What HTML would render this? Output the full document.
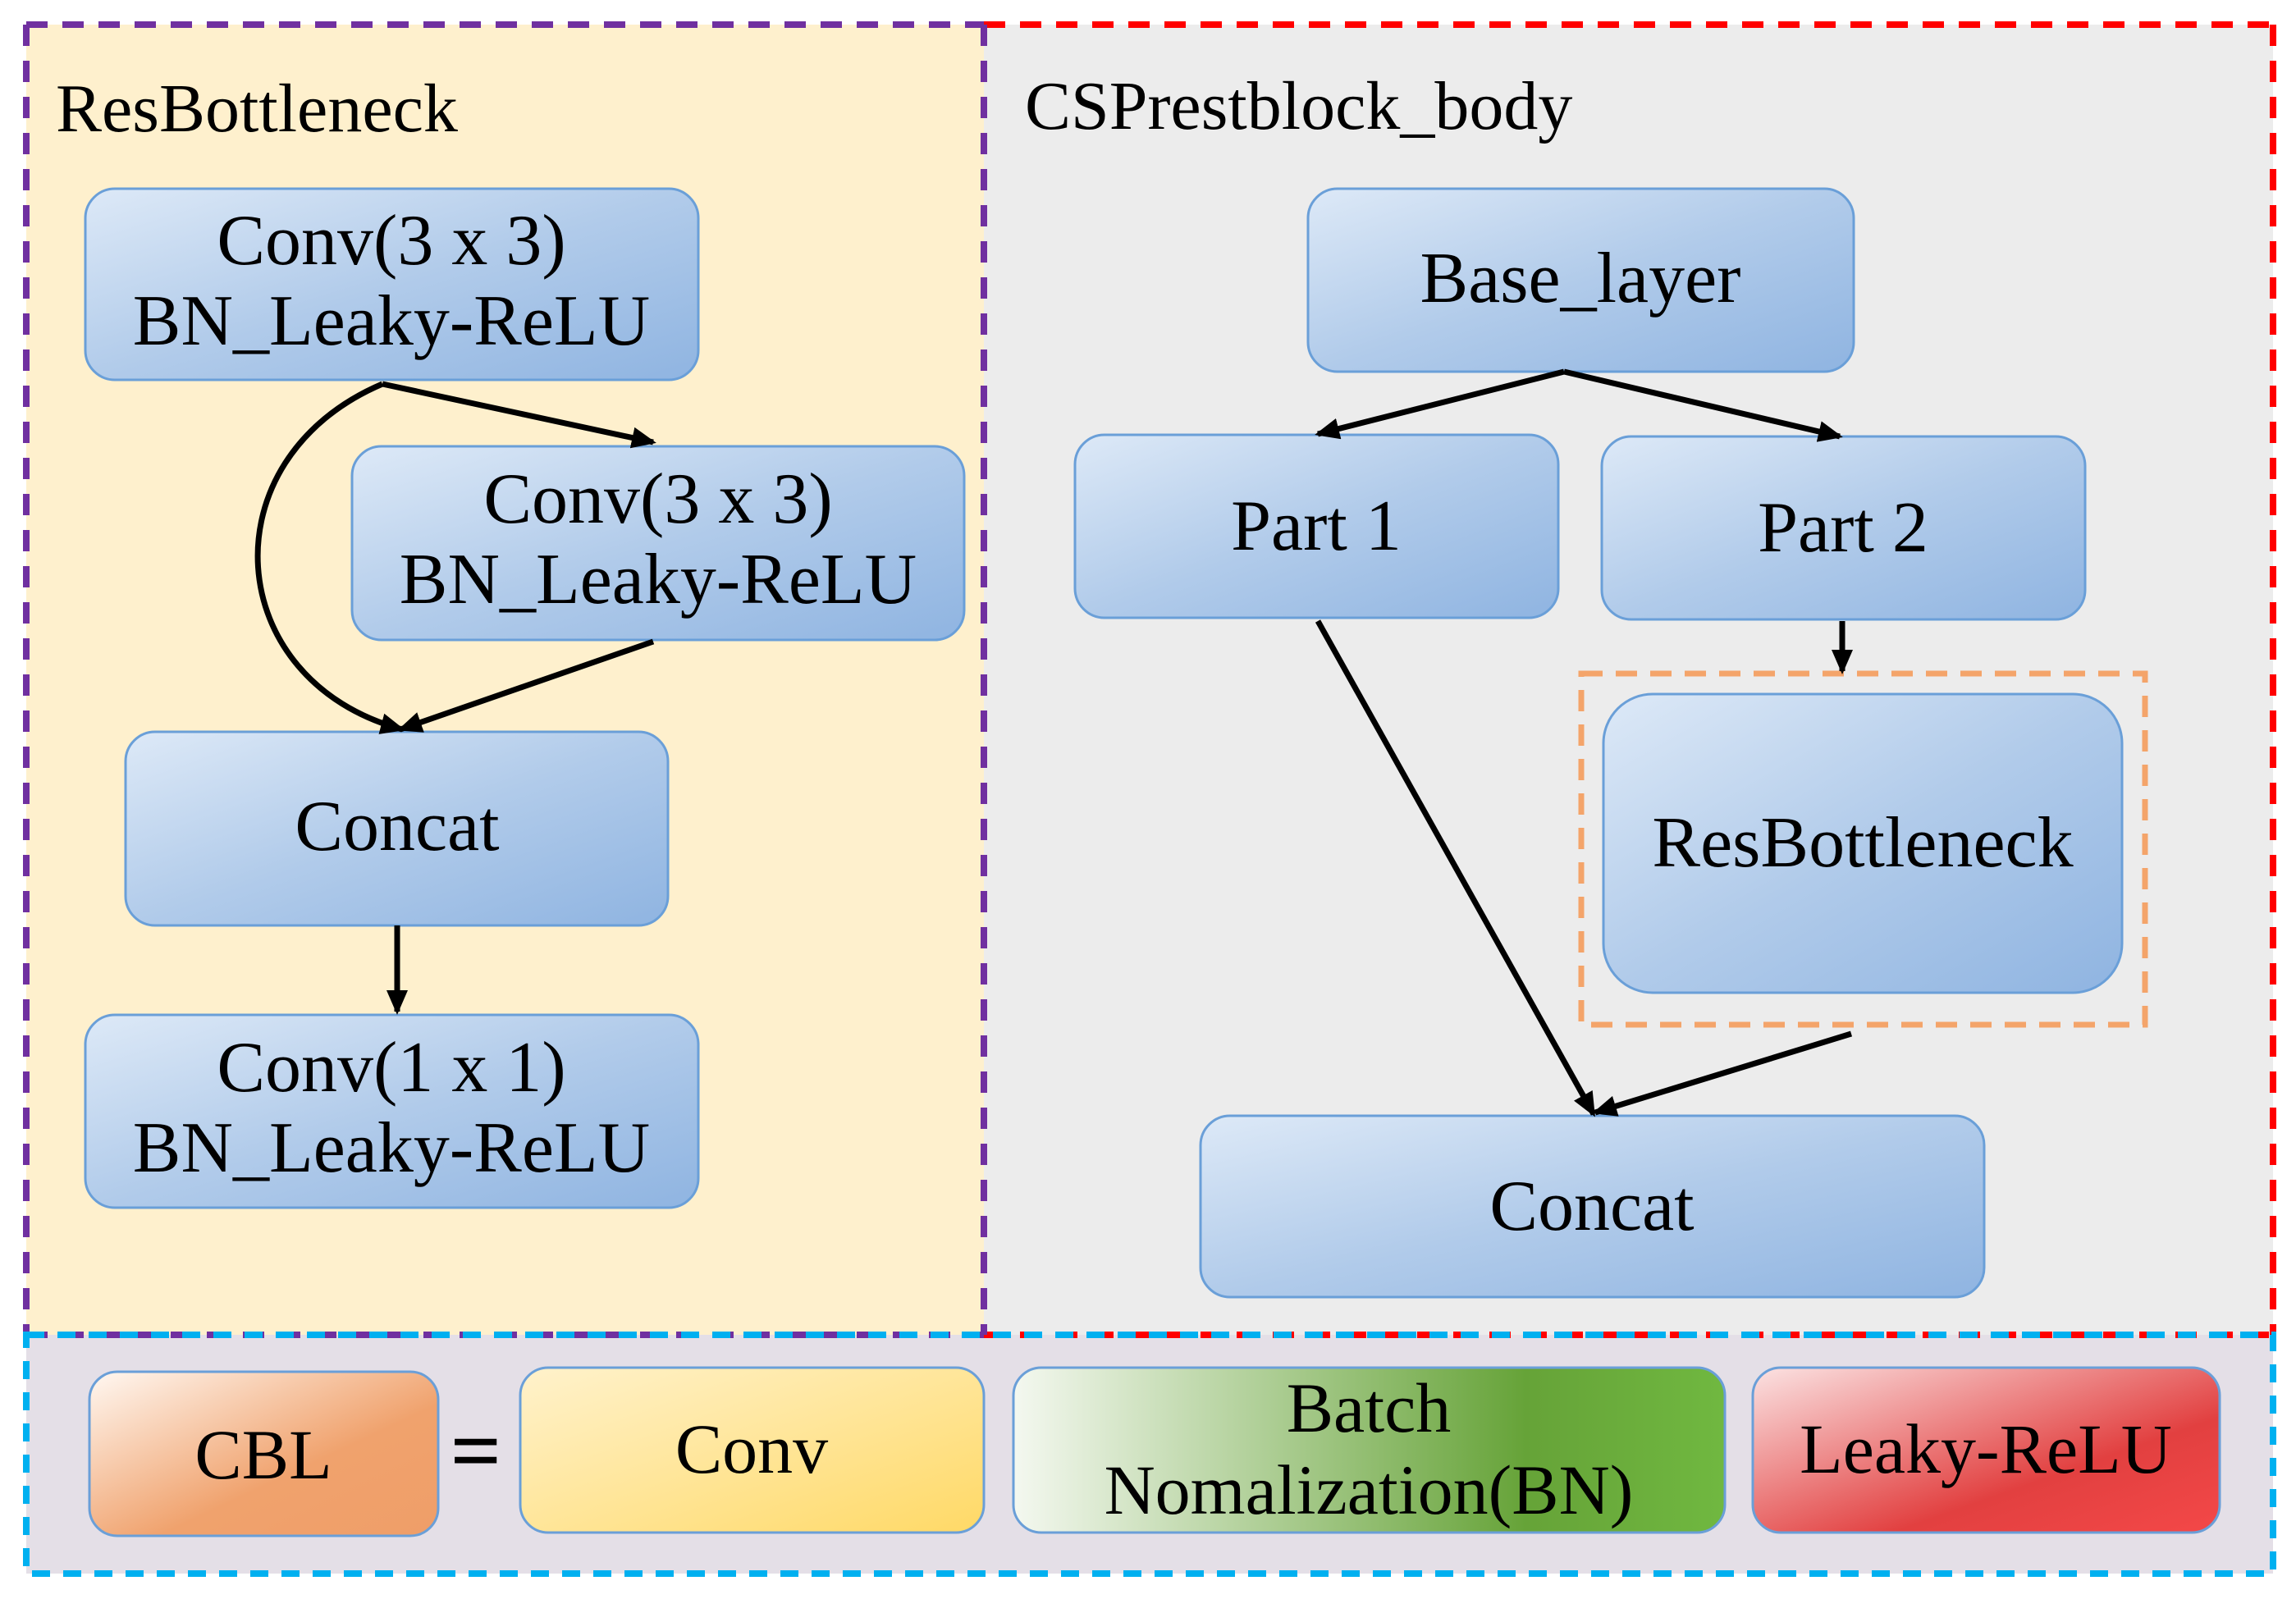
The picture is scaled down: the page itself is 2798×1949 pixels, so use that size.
<!DOCTYPE html>
<html><head><meta charset="utf-8"><style>
html,body{margin:0;padding:0;background:#fff;}
svg{display:block;}
text{font-family:"Liberation Serif",serif;fill:#000;}
</style></head><body>
<svg width="2798" height="1949" viewBox="0 0 2798 1949" xmlns="http://www.w3.org/2000/svg">
<defs>
<linearGradient id="bl" x1="0" y1="0" x2="1" y2="1"><stop offset="0" stop-color="#dde9f7"/><stop offset="0.5" stop-color="#b1cbea"/><stop offset="1" stop-color="#8fb4e1"/></linearGradient>
<linearGradient id="or" x1="0" y1="0" x2="1" y2="1"><stop offset="0" stop-color="#fff8f2"/><stop offset="0.6" stop-color="#f0a26d"/><stop offset="1" stop-color="#ef9e68"/></linearGradient>
<linearGradient id="ye" x1="0" y1="0" x2="1" y2="1"><stop offset="0" stop-color="#fff2cc"/><stop offset="1" stop-color="#ffd966"/></linearGradient>
<linearGradient id="gr" x1="0" y1="0" x2="1" y2="0"><stop offset="0" stop-color="#f4f8f0"/><stop offset="0.72" stop-color="#66a338"/><stop offset="1" stop-color="#70b840"/></linearGradient>
<linearGradient id="rd" x1="0" y1="0" x2="1" y2="1"><stop offset="0" stop-color="#fbe3e3"/><stop offset="0.65" stop-color="#e24040"/><stop offset="1" stop-color="#f44848"/></linearGradient>
<marker id="ah" markerWidth="30" markerHeight="26" refX="26" refY="13" orient="auto" markerUnits="userSpaceOnUse" viewBox="0 0 30 26"><path d="M0,0 L30,13 L0,26 z" fill="#000"/></marker>
</defs>
<rect x="32" y="30" width="1167" height="1597" fill="#fef0cd"/>
<rect x="1199" y="30" width="1571" height="1597" fill="#ececec"/>
<rect x="32" y="1627" width="2738" height="291" fill="#e4dfe7"/>
<path d="M2770 30 V1627 M1199 30 H2770 M1199 1627 H2770" stroke="#ff0000" stroke-width="8" fill="none" stroke-dasharray="26 18"/>
<path d="M32 30 V1627 M32 30 H1199 M1199 30 V1627 M32 1627 H1199" stroke="#7030a0" stroke-width="8" fill="none" stroke-dasharray="26 18"/>
<rect x="32" y="1627" width="2738" height="291" stroke="#00b0f0" stroke-width="8" fill="none" stroke-dasharray="22 16"/>
<text x="68" y="160" font-size="84">ResBottleneck</text>
<text x="1249" y="157" font-size="84">CSPrestblock_body</text>
<g stroke="#6a9fd8" stroke-width="3" fill="url(#bl)">
<rect x="104" y="230" width="747" height="233" rx="36"/>
<rect x="429" y="544" width="746" height="236" rx="36"/>
<rect x="153" y="892" width="661" height="236" rx="36"/>
<rect x="104" y="1237" width="747" height="235" rx="36"/>
<rect x="1594" y="230" width="665" height="223" rx="36"/>
<rect x="1310" y="530" width="589" height="223" rx="36"/>
<rect x="1952" y="532" width="589" height="223" rx="36"/>
<rect x="1954" y="846" width="632" height="364" rx="60"/>
<rect x="1463" y="1360" width="955" height="221" rx="36"/>
</g>
<g font-size="88" text-anchor="middle">
<text x="477" y="322">Conv(3 x 3)</text>
<text x="477" y="420">BN_Leaky-ReLU</text>
<text x="802" y="637">Conv(3 x 3)</text>
<text x="802" y="735">BN_Leaky-ReLU</text>
<text x="484" y="1036">Concat</text>
<text x="477" y="1330">Conv(1 x 1)</text>
<text x="477" y="1428">BN_Leaky-ReLU</text>
<text x="1926" y="368">Base_layer</text>
<text x="1604" y="670">Part 1</text>
<text x="2246" y="672">Part 2</text>
<text x="2270" y="1056">ResBottleneck</text>
<text x="1940" y="1499">Concat</text>
</g>
<rect x="1927" y="821" width="687" height="428" fill="none" stroke="#f4a46a" stroke-width="7" stroke-dasharray="26 16"/>
<g stroke="#000" stroke-width="7" fill="none" marker-end="url(#ah)">
<path d="M466 468 C250 560 270 830 490 889"/>
<line x1="466" y1="468" x2="796" y2="539"/>
<line x1="796" y1="782" x2="488" y2="889"/>
<line x1="484" y1="1128" x2="484" y2="1233"/>
<line x1="1906" y1="453" x2="1606" y2="529"/>
<line x1="1906" y1="453" x2="2242" y2="532"/>
<line x1="2245" y1="757" x2="2245" y2="818"/>
<line x1="1606" y1="757" x2="1942" y2="1358"/>
<line x1="2256" y1="1260" x2="1944" y2="1356"/>
</g>
<g stroke="#6a9fd8" stroke-width="3">
<rect x="109" y="1672" width="425" height="200" rx="34" fill="url(#or)"/>
<rect x="634" y="1667" width="565" height="201" rx="34" fill="url(#ye)"/>
<rect x="1235" y="1667" width="867" height="201" rx="34" fill="url(#gr)"/>
<rect x="2136" y="1667" width="569" height="201" rx="34" fill="url(#rd)"/>
</g>
<g font-size="86" text-anchor="middle">
<text x="321" y="1802">CBL</text>
<text x="580" y="1805" font-size="110" font-weight="bold">=</text>
<text x="916" y="1795">Conv</text>
<text x="1668" y="1745">Batch</text>
<text x="1668" y="1845">Nomalization(BN)</text>
<text x="2420" y="1795">Leaky-ReLU</text>
</g>
</svg>
</body></html>
